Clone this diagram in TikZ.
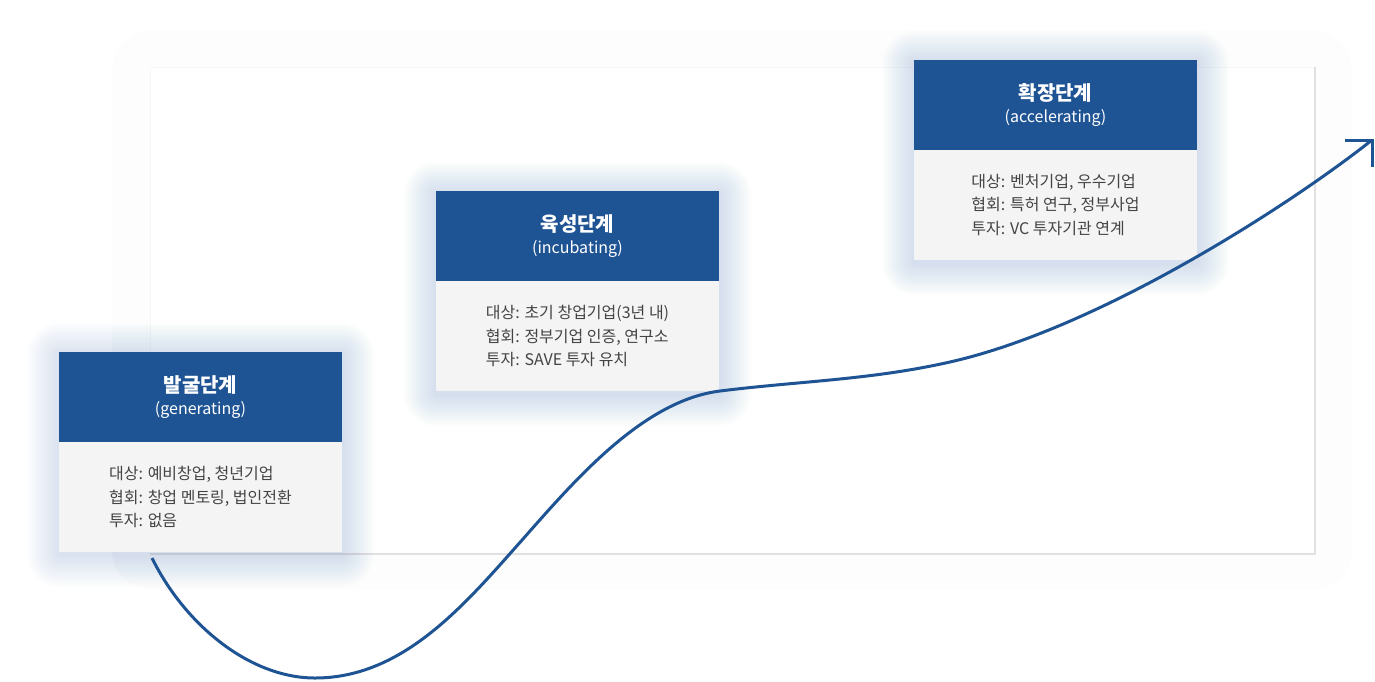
\documentclass[tikz,border=0pt]{standalone}
\usepackage{fontspec}
\setmainfont{Noto Sans CJK KR}
\definecolor{hdrblue}{HTML}{1F5494}
\definecolor{bodygray}{HTML}{F4F4F4}
\definecolor{bodytext}{HTML}{444444}
\definecolor{framegray}{HTML}{E1E1E1}
\definecolor{framefaint}{HTML}{F7F7F7}
\definecolor{framehalo}{HTML}{FDFDFD}
\definecolor{glow}{HTML}{7F9AC8}
\tikzset{
  hdr/.style={rectangle, fill=hdrblue, minimum width=283pt, minimum height=90pt, inner sep=0pt, outer sep=0pt},
  bdy/.style={rectangle, fill=bodygray, minimum width=283pt, minimum height=110pt, inner sep=0pt, outer sep=0pt},
  ttl/.style={text=white, font=\fontsize{20}{24}\selectfont\bfseries, inner sep=0pt},
  subttl/.style={text=white, font=\fontsize{16}{19}\selectfont, inner sep=0pt},
  bodytxt/.style={text=bodytext, align=left, font=\fontsize{16}{23.5}\selectfont, inner sep=0pt},
  growth/.style={draw=hdrblue, line width=3pt},
  glowlayer/.style={fill=glow, opacity=0.018}
}
\begin{document}
\begin{tikzpicture}[x=1pt,y=-1pt]
\useasboundingbox (0,0) rectangle (1375,681);
% frame
\fill[framehalo, rounded corners=40pt] (112,30) rectangle (1352,590);
\fill[white] (150,67) rectangle (1315,554);
\draw[framefaint, line width=1pt] (150,554) -- (150,67) -- (1315,67);
\draw[framegray, line width=2pt] (150,554) -- (1315,554) -- (1315,67);
% glows
\foreach \bx/\by in {59/352, 436/191, 914/60} {
  \foreach \i in {1,...,16} {
    \fill[glowlayer, rounded corners=\i*2pt] (\bx-\i*2, \by+3-\i*2) rectangle (\bx+283+\i*2, \by+203+\i*2);
  }
}
% box 1
\node[hdr, anchor=north west] (h1) at (59,352) {};
\node[bdy, anchor=north] (b1) at (h1.south) {};
\node[ttl] (t1) at ([yshift=12pt]h1.center) {발굴단계};
\node[subttl] (s1) at ([yshift=-13pt]h1.center) {(generating)};
\node[bodytxt] (x1) at (b1.center) {대상: 예비창업, 청년기업\\협회: 창업 멘토링, 법인전환\\투자: 없음};
% box 2
\node[hdr, anchor=north west] (h2) at (436,191) {};
\node[bdy, anchor=north] (b2) at (h2.south) {};
\node[ttl] (t2) at ([yshift=12pt]h2.center) {육성단계};
\node[subttl] (s2) at ([yshift=-13pt]h2.center) {(incubating)};
\node[bodytxt] (x2) at (b2.center) {대상: 초기 창업기업(3년 내)\\협회: 정부기업 인증, 연구소\\투자: SAVE 투자 유치};
% box 3
\node[hdr, anchor=north west] (h3) at (914,60) {};
\node[bdy, anchor=north] (b3) at (h3.south) {};
\node[ttl] (t3) at ([yshift=12pt]h3.center) {확장단계};
\node[subttl] (s3) at ([yshift=-13pt]h3.center) {(accelerating)};
\node[bodytxt] (x3) at (b3.center) {대상: 벤처기업, 우수기업\\협회: 특허 연구, 정부사업\\투자: VC 투자기관 연계};
% growth curve
\coordinate (start) at (152,558);
\coordinate (tip) at (1372,140);
\coordinate (armh) at (1345,140);
\coordinate (armv) at (1372,167);
\draw[growth] (start) .. controls (185,625) and (250,678) .. (315,678)
  .. controls (400,678) and (460,610) .. (515,548)
  .. controls (570,486) and (640,401) .. (720,391)
  .. controls (800,381) and (870,380) .. (950,362)
  .. controls (1100,328) and (1290,205) .. (tip);
\draw[growth, line join=miter] (armh) -- (tip) -- (armv);
\end{tikzpicture}
\end{document}
